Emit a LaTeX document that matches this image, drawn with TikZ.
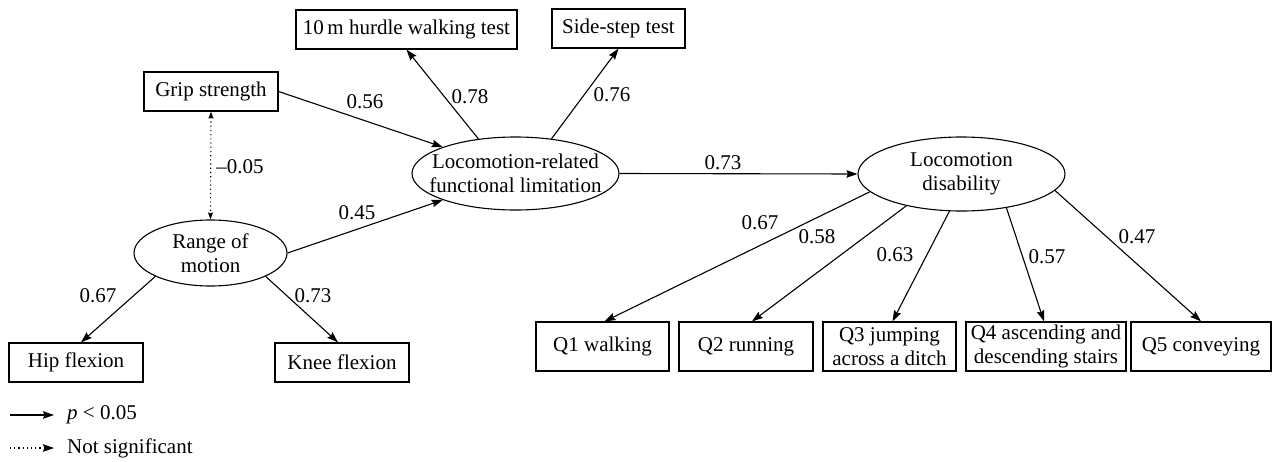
\documentclass[tikz,border=0pt]{standalone}
\usepackage{fontspec}
\setmainfont{Liberation Serif}
\usetikzlibrary{arrows.meta,shapes.geometric}
\begin{document}
\begin{tikzpicture}[x=1pt,y=-1pt,
  font=\fontsize{21}{24}\selectfont,
  box/.style={draw, line width=1.2pt, inner sep=0pt, minimum height=39pt, align=center},
  qbox/.style={draw, line width=1.2pt, inner sep=0pt, minimum height=49pt, align=center},
  ell/.style={draw, ellipse, line width=1.1pt, inner sep=0pt},
  txt/.style={inner sep=0pt, align=center},
  arr/.style={line width=1.1pt, -{Stealth[length=11pt,width=7.5pt,inset=1.5pt]}},
  dotarr/.style={line width=1.1pt, dash pattern=on 1.2pt off 3pt, {Stealth[length=7pt,width=5pt,inset=1pt]}-{Stealth[length=7pt,width=5pt,inset=1pt]}},
  legdot/.style={line width=1.1pt, dash pattern=on 1.2pt off 3pt, -{Stealth[length=11pt,width=7.5pt,inset=1.5pt]}},
  lbl/.style={inner sep=0pt}]
\useasboundingbox (0,0) rectangle (1272,461);

% boxes
\node[box, minimum width=221pt] (hurdle) at (406.5,29.5) {10\,m hurdle walking test};
\node[box, minimum width=133pt] (side) at (618.5,28.5) {Side-step test};
\node[box, minimum width=134pt] (grip) at (211,91.5) {Grip strength};
\node[box, minimum width=134pt] (hip) at (76,362.5) {Hip flexion};
\node[box, minimum width=134pt] (knee) at (342,362.5) {Knee flexion};
\node[qbox, minimum width=133pt] (q1) at (602.5,346.5) {Q1 walking};
\node[qbox, minimum width=134pt] (q2) at (746,346.5) {Q2 running};
\node[qbox, minimum width=133pt] (q3) at (889.5,346.5) {Q3 jumping\\across a ditch};
\node[qbox, minimum width=160pt] (q4) at (1046,346.5) {Q4 ascending and\\descending stairs};
\node[qbox, minimum width=140pt] (q5) at (1201,346.5) {Q5 conveying};

% ellipses
\node[ell, minimum width=207pt, minimum height=73pt] (lfl) at (515.5,173.5) {};
\node[txt] (lflt) at (lfl.center) {Locomotion-related\\functional limitation};
\node[ell, minimum width=207pt, minimum height=74pt] (ld) at (961.5,174) {};
\node[txt] (ldt) at (ld.center) {Locomotion\\disability};
\node[ell, minimum width=153pt, minimum height=66pt] (rom) at (210.5,253) {};
\node[txt] (romt) at (rom.center) {Range of\\motion};

% connectors
\draw[arr] (grip.east) -- (lfl.160);
\draw[arr] (rom.east) -- (lfl.200);
\draw[arr] (lfl.137) -- (hurdle.south);
\draw[arr] (lfl.44) -- (side.south);
\draw[arr] (lfl.east) -- (ld.west);
\draw[dotarr] (grip.south) -- (rom.north);
\draw[arr] (rom.203) -- ([xshift=5pt]hip.north);
\draw[arr] (rom.337) -- ([xshift=-4pt]knee.north);
\draw[arr] (ld.191) -- ([xshift=2pt]q1.north);
\draw[arr] (ld.210) -- ([xshift=6pt]q2.north);
\draw[arr] (ld.252) -- ([xshift=3pt]q3.north);
\draw[arr] (ld.323) -- ([xshift=-2pt]q4.north);
\draw[arr] (ld.350.5) -- (q5.north);

% labels
\node[lbl] (l56) at (365,102) {0.56};
\node[lbl] (l05) at (240,167) {\textendash0.05};
\node[lbl] (l45) at (357,213) {0.45};
\node[lbl] (l78) at (470,97) {0.78};
\node[lbl] (l76) at (612,95) {0.76};
\node[lbl] (l73a) at (723,163) {0.73};
\node[lbl] (l67a) at (98,296) {0.67};
\node[lbl] (l73b) at (313,296) {0.73};
\node[lbl] (l67b) at (760,223) {0.67};
\node[lbl] (l58) at (817,237) {0.58};
\node[lbl] (l63) at (895,255) {0.63};
\node[lbl] (l57) at (1047,257) {0.57};
\node[lbl] (l47) at (1137,237) {0.47};

% legend
\coordinate (la1) at (10,415);
\coordinate (la2) at (54,415);
\coordinate (lb1) at (10,448);
\coordinate (lb2) at (54,448);
\draw[arr] (la1) -- (la2);
\draw[legdot] (lb1) -- (lb2);
\node[lbl, anchor=west] (lega) at (67,415) {\textit{p} < 0.05};
\node[lbl, anchor=west] (legb) at (67,448) {Not significant};
\end{tikzpicture}
\end{document}
